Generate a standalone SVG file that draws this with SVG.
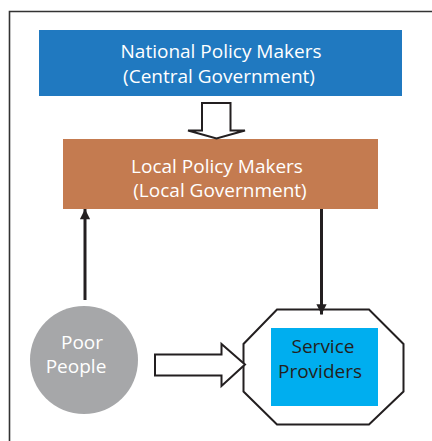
<svg xmlns="http://www.w3.org/2000/svg" width="432" height="441" viewBox="0 0 432 441">
  <defs>
    <style>
      .lbl { font-family: "Open Sans", "DejaVu Sans", sans-serif; font-size: 19px; text-anchor: middle; }
      .light { fill: #ffffff; }
      .dark { fill: #231f20; }
      .hollow { fill: #ffffff; stroke: #231f20; stroke-width: 2; stroke-linejoin: miter; }
      .link { fill: none; stroke: #231f20; stroke-width: 3; }
    </style>
    <marker id="head" viewBox="0 0 10 10" refX="10" refY="5" markerWidth="4" markerHeight="3.4" orient="auto" markerUnits="strokeWidth">
      <path d="M0,0 L10,5 L0,10 Z" fill="#231f20"/>
    </marker>
  </defs>

  <rect width="432" height="441" fill="#ffffff"/>

  <!-- outer frame (open on the right and bottom) -->
  <path d="M9.5,441 V11.5 H432" fill="none" stroke="#333333" stroke-width="1.6"/>

  <g id="national">
    <rect x="39" y="30" width="363" height="66" fill="#2079c0"/>
    <text class="lbl light" x="221" y="58">National Policy Makers</text>
    <text class="lbl light" x="219" y="83">(Central Government)</text>
  </g>

  <g id="local">
    <rect x="63" y="139" width="315" height="70" fill="#c47b50"/>
    <text class="lbl light" x="217" y="173">Local Policy Makers</text>
    <text class="lbl light" x="220" y="197">(Local Government)</text>
  </g>

  <g id="poor">
    <circle cx="84" cy="360" r="54" fill="#a6a7a9"/>
    <text class="lbl light" x="82" y="349">Poor</text>
    <text class="lbl light" x="76" y="373">People</text>
  </g>

  <g id="providers">
    <polygon class="hollow" points="277,309.5 369,309.5 403.5,344 403.5,391.5 369,424.5 277,424.5 243.5,391.5 243.5,344"/>
    <rect x="271" y="328" width="107" height="78" fill="#00aeef"/>
    <text class="lbl dark" x="323" y="353">Service</text>
    <text class="lbl dark" x="320" y="377.5">Providers</text>
  </g>

  <g id="connectors">
    <!-- block arrow: national to local -->
    <polygon class="hollow" points="202,103 230.5,103 230.5,130.5 245,130.5 216.5,138.5 188,130.5 202,130.5"/>
    <!-- block arrow: poor people to service providers -->
    <polygon class="hollow" points="155,354.5 221.5,354.5 221.5,344 245,364.5 221.5,386 221.5,375.5 155,375.5"/>
    <!-- poor people to local government -->
    <line class="link" x1="85" y1="300" x2="85" y2="209" marker-end="url(#head)"/>
    <!-- local government to service providers -->
    <line class="link" x1="321.5" y1="209" x2="321.5" y2="314.5" marker-end="url(#head)"/>
  </g>
</svg>
